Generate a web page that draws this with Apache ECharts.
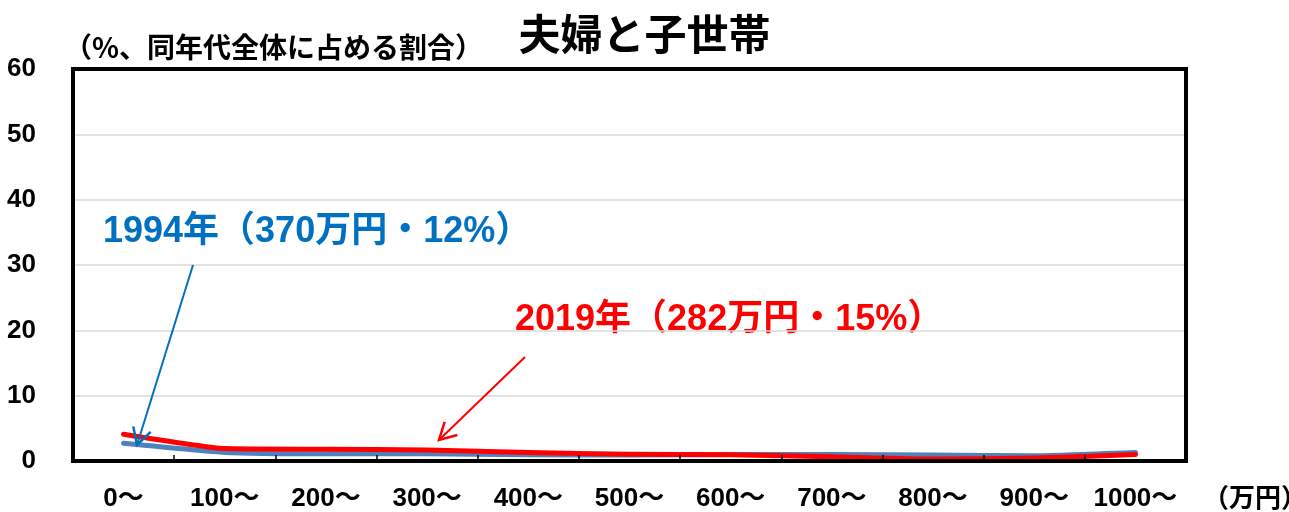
<!DOCTYPE html>
<html><head><meta charset="utf-8">
<script src="https://cdn.jsdelivr.net/npm/echarts@6/dist/echarts.min.js"></script>
<style>html,body{margin:0;padding:0;background:#fff}#c{width:1289px;height:512px}</style>
</head><body><div id="c"></div>
<script>
const categories = ['0～','100～','200～','300～','400～','500～','600～','700～','800～','900～','1000～'];
const series1994 = [2.7, 1.3, 1.1, 1.1, 0.95, 0.9, 1.0, 1.0, 0.9, 0.8, 1.3];
const series2019 = [4.1, 1.9, 1.8, 1.7, 1.3, 1.05, 0.95, 0.65, 0.3, 0.45, 1.0];
const yMin = 0, yMax = 60, yStep = 10;
const titleText = '夫婦と子世帯';
const yUnitText = '（%、同年代全体に占める割合）';
const xUnitText = '（万円）';
const note1994 = '1994年（370万円・12%）';
const note2019 = '2019年（282万円・15%）';

const numFont = "'Liberation Sans Narrow','Liberation Sans','Noto Sans CJK JP',sans-serif";
const cjkFont = "'Noto Sans CJK JP',sans-serif";

function arrow(x1, y1, x2, y2, color) {
  const ang = Math.atan2(y2 - y1, x2 - x1);
  const L = 19, a = 0.5;
  const p1 = [x2 - L * Math.cos(ang - a), y2 - L * Math.sin(ang - a)];
  const p2 = [x2 - L * Math.cos(ang + a), y2 - L * Math.sin(ang + a)];
  return [
    {type:'line', shape:{x1, y1, x2, y2}, style:{stroke:color, lineWidth:2}, z:100},
    {type:'polyline', shape:{points:[p1,[x2,y2],p2]}, style:{stroke:color, lineWidth:2.5, fill:null}, z:100}
  ];
}

const frameLine = {show: true, onZero: false, lineStyle: {color: '#000', width: 4, cap: 'square'}};
const chart = echarts.init(document.getElementById('c'));
chart.setOption({
  animation: false,
  backgroundColor: '#fff',
  title: {
    text: titleText, left: 'center', top: 8,
    textStyle: {fontFamily: cjkFont, fontSize: 42, fontWeight: 'bold', color: '#000'}
  },
  grid: {left: 73, right: 103, top: 69, bottom: 50, show: false},
  xAxis: [{
    type: 'category', data: categories, boundaryGap: true, position: 'bottom',
    axisLine: frameLine,
    axisTick: {show: true, inside: true, length: 6, interval: 0, lineStyle: {color: '#000', width: 1.5}},
    axisLabel: {interval: 0, margin: 25, fontFamily: numFont, fontSize: 26, fontWeight: 'bold', color: '#000'},
    z: 5
  }, {
    type: 'category', data: categories, position: 'top',
    axisLine: frameLine, axisTick: {show: false}, axisLabel: {show: false}, z: 5
  }],
  yAxis: [{
    type: 'value', min: yMin, max: yMax, interval: yStep, position: 'left',
    axisLine: frameLine,
    axisTick: {show: false},
    splitLine: {show: true, lineStyle: {color: '#d9d9d9', width: 1.5}},
    axisLabel: {margin: 37, fontFamily: numFont, fontSize: 26, fontWeight: 'bold', color: '#000', padding: [8,0,0,0]},
    z: 5
  }, {
    type: 'value', min: yMin, max: yMax, interval: yStep, position: 'right',
    axisLine: frameLine, axisTick: {show: false}, axisLabel: {show: false}, splitLine: {show: false}, z: 5
  }],
  series: [
    {name: '1994', type: 'line', data: series1994, symbol: 'none', smooth: 0.15,
     lineStyle: {color: '#4F81BD', width: 5, cap: 'round', join: 'round'}, z: 3},
    {name: '2019', type: 'line', data: series2019, symbol: 'none', smooth: 0.15,
     lineStyle: {color: '#FF0000', width: 5, cap: 'round', join: 'round'}, z: 4}
  ],
  graphic: [
    {type:'text', left: 64, top: 33, style:{text: yUnitText, fontFamily: cjkFont, fontSize: 28, fontWeight: 'bold', fill:'#000'}},
    {type:'text', left: 1203, top: 484, style:{text: xUnitText, fontFamily: cjkFont, fontSize: 26, fontWeight: 'bold', fill:'#000'}},
    {type:'text', left: -12, top: 484, style:{text: '）', fontFamily: cjkFont, fontSize: 26, fontWeight: 'bold', fill:'#000'}},
    {type:'text', left: 103, top: 214, style:{text: note1994, fontFamily: numFont, fontSize: 36, fontWeight: 'bold', fill:'#0070C0'}},
    {type:'text', left: 515, top: 302, style:{text: note2019, fontFamily: numFont, fontSize: 36, fontWeight: 'bold', fill:'#FF0000'}},
    ...arrow(193, 265, 137, 445, '#0070C0'),
    ...arrow(525, 357, 439, 440, '#FF0000')
  ]
});
</script></body></html>
